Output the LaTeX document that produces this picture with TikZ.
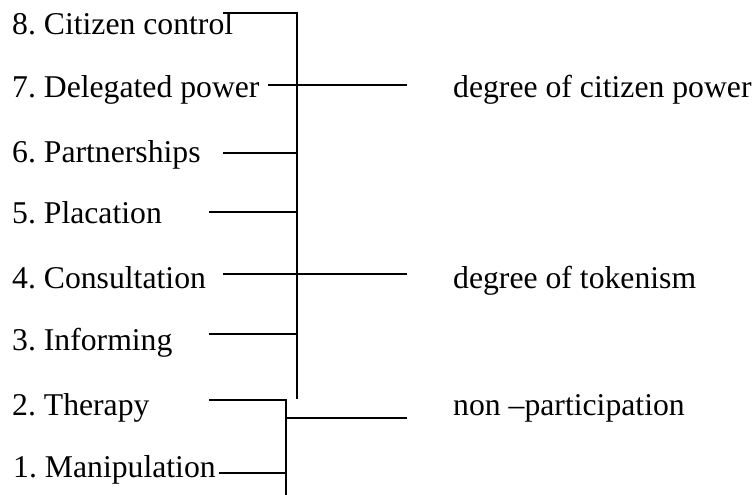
\documentclass[tikz,border=0pt]{standalone}
\usepackage{fontspec}
\setmainfont{Liberation Serif}
\usetikzlibrary{positioning,calc}
\tikzstyle{rung} = [anchor=base west, inner sep=0pt, font=\fontsize{31.7}{38}\selectfont\frenchspacing]
\tikzstyle{bar} = [line width=2pt, line join=miter]

\begin{document}
\begin{tikzpicture}[x=1pt, y=-1pt]
    \useasboundingbox (0,0) rectangle (756,495);

    % Rungs
    \node[rung] (control) at (12,35) {8. Citizen control};
    \node[rung] (delegated) at (12,98) {7. Delegated power};
    \node[rung] (partner) at (12,162) {6. Partnerships};
    \node[rung] (placation) at (12,223) {5. Placation};
    \node[rung] (consult) at (12,288) {4. Consultation};
    \node[rung] (inform) at (12,350) {3. Informing};
    \node[rung] (therapy) at (12,415) {2. Therapy};
    \node[rung] (manip) at (13,477) {1. Manipulation};

    % Groups
    \node[rung] (power) at (453,98) {degree of citizen power};
    \node[rung] (token) at (453,288) {degree of tokenism};
    \node[rung] (nonpart) at (453,415) {non –participation};

    % Brackets
    \coordinate (top) at (297,13);
    \coordinate (mid) at (297,399);
    \coordinate (low) at (286,400);
    \coordinate (bottom) at (286,497);
    \coordinate (c8) at (223,13);
    \coordinate (c7) at (268,85);
    \coordinate (c6) at (223,153);
    \coordinate (c5) at (209,212);
    \coordinate (c4) at (223,274);
    \coordinate (c3) at (209,334);
    \coordinate (c2) at (209,400);
    \coordinate (c1) at (219,473);
    \coordinate (e7) at (407,85);
    \coordinate (e4) at (407,274);
    \coordinate (e0) at (407,418);

    \draw[bar] (c8) -- (top) -- (mid);
    \draw[bar] (c7) -- (e7);
    \draw[bar] (c6) -- (c6 -| top);
    \draw[bar] (c5) -- (c5 -| top);
    \draw[bar] (c4) -- (e4);
    \draw[bar] (c3) -- (c3 -| top);
    \draw[bar] (c2) -- (low) -- (bottom);
    \draw[bar] (c1) -- (c1 -| low);
    \draw[bar] (e0 -| low) -- (e0);
\end{tikzpicture}
\end{document}
